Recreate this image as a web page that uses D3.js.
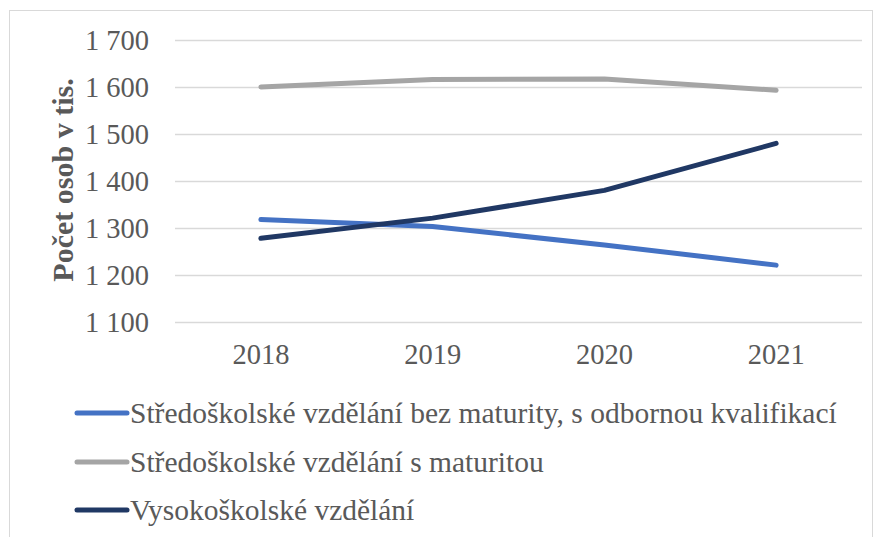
<!DOCTYPE html>
<html><head><meta charset="utf-8">
<script src="https://cdn.jsdelivr.net/npm/d3@7"></script>
<style>body{margin:0;background:#fff}svg{display:block}</style>
</head><body>
<svg id="c" width="880" height="537"></svg>
<script>
const years = ["2018","2019","2020","2021"];
const seriesNames = ["Středoškolské vzdělání bez maturity, s odbornou kvalifikací","Středoškolské vzdělání s maturitou","Vysokoškolské vzdělání"];
const bezMaturity = [1318,1303,1264,1221];
const sMaturitou = [1600,1616,1617,1593];
const vysokoskolske = [1278,1321,1380,1480];
const yTicks = [1100,1200,1300,1400,1500,1600,1700];
const colors = ["#4472C4","#A5A5A5","#203864"];
const series = [bezMaturity, sMaturitou, vysokoskolske];

const svg = d3.select("#c");
const font = "'Liberation Serif','Times New Roman',serif";
// border
svg.append("rect").attr("x",9.5).attr("y",10.5).attr("width",863).attr("height",560)
  .attr("fill","none").attr("stroke","#D9D9D9").attr("stroke-width",1);

const x = d3.scaleBand().domain(years).range([175,862]);
const y = d3.scaleLinear().domain([1100,1700]).range([322,40]);

const gy = svg.append("g").attr("transform","translate(175,0)")
  .call(d3.axisLeft(y).tickValues(yTicks).tickSize(-687).tickPadding(26)
    .tickFormat(d=>d3.format(",")(d).replace(",", " ")));
gy.select(".domain").remove();
gy.selectAll(".tick line").attr("stroke","#D9D9D9").attr("stroke-width",1.5);
gy.selectAll(".tick text").attr("fill","#595959").style("font-family",font).style("font-size","28.5px");

const gx = svg.append("g").attr("transform","translate(0,322)")
  .call(d3.axisBottom(x).tickSize(0).tickPadding(22));
gx.select(".domain").remove();
gx.selectAll(".tick text").attr("fill","#595959").style("font-family",font).style("font-size","28.5px");

svg.append("text").attr("transform","translate(73,180) rotate(-90)")
  .attr("text-anchor","middle").attr("fill","#595959")
  .style("font-family",font).style("font-size","30px").style("font-weight","bold")
  .text("Počet osob v tis.");

const line = d3.line().x((d,i)=>x(years[i])+x.bandwidth()/2).y(d=>y(d));
series.forEach((s,i)=>{
  svg.append("path").datum(s).attr("d",line).attr("fill","none")
    .attr("stroke",colors[i]).attr("stroke-width",5).attr("stroke-linecap","round").attr("stroke-linejoin","round");
});

const legY = [413,462,510];
seriesNames.forEach((n,i)=>{
  svg.append("line").attr("x1",77).attr("x2",127).attr("y1",legY[i]).attr("y2",legY[i])
    .attr("stroke",colors[i]).attr("stroke-width",5).attr("stroke-linecap","round");
  svg.append("text").attr("x",130).attr("y",legY[i]).attr("dy","0.35em").attr("fill","#595959")
    .style("font-family",font).style("font-size","29.5px").text(n);
});
</script>
</body></html>
